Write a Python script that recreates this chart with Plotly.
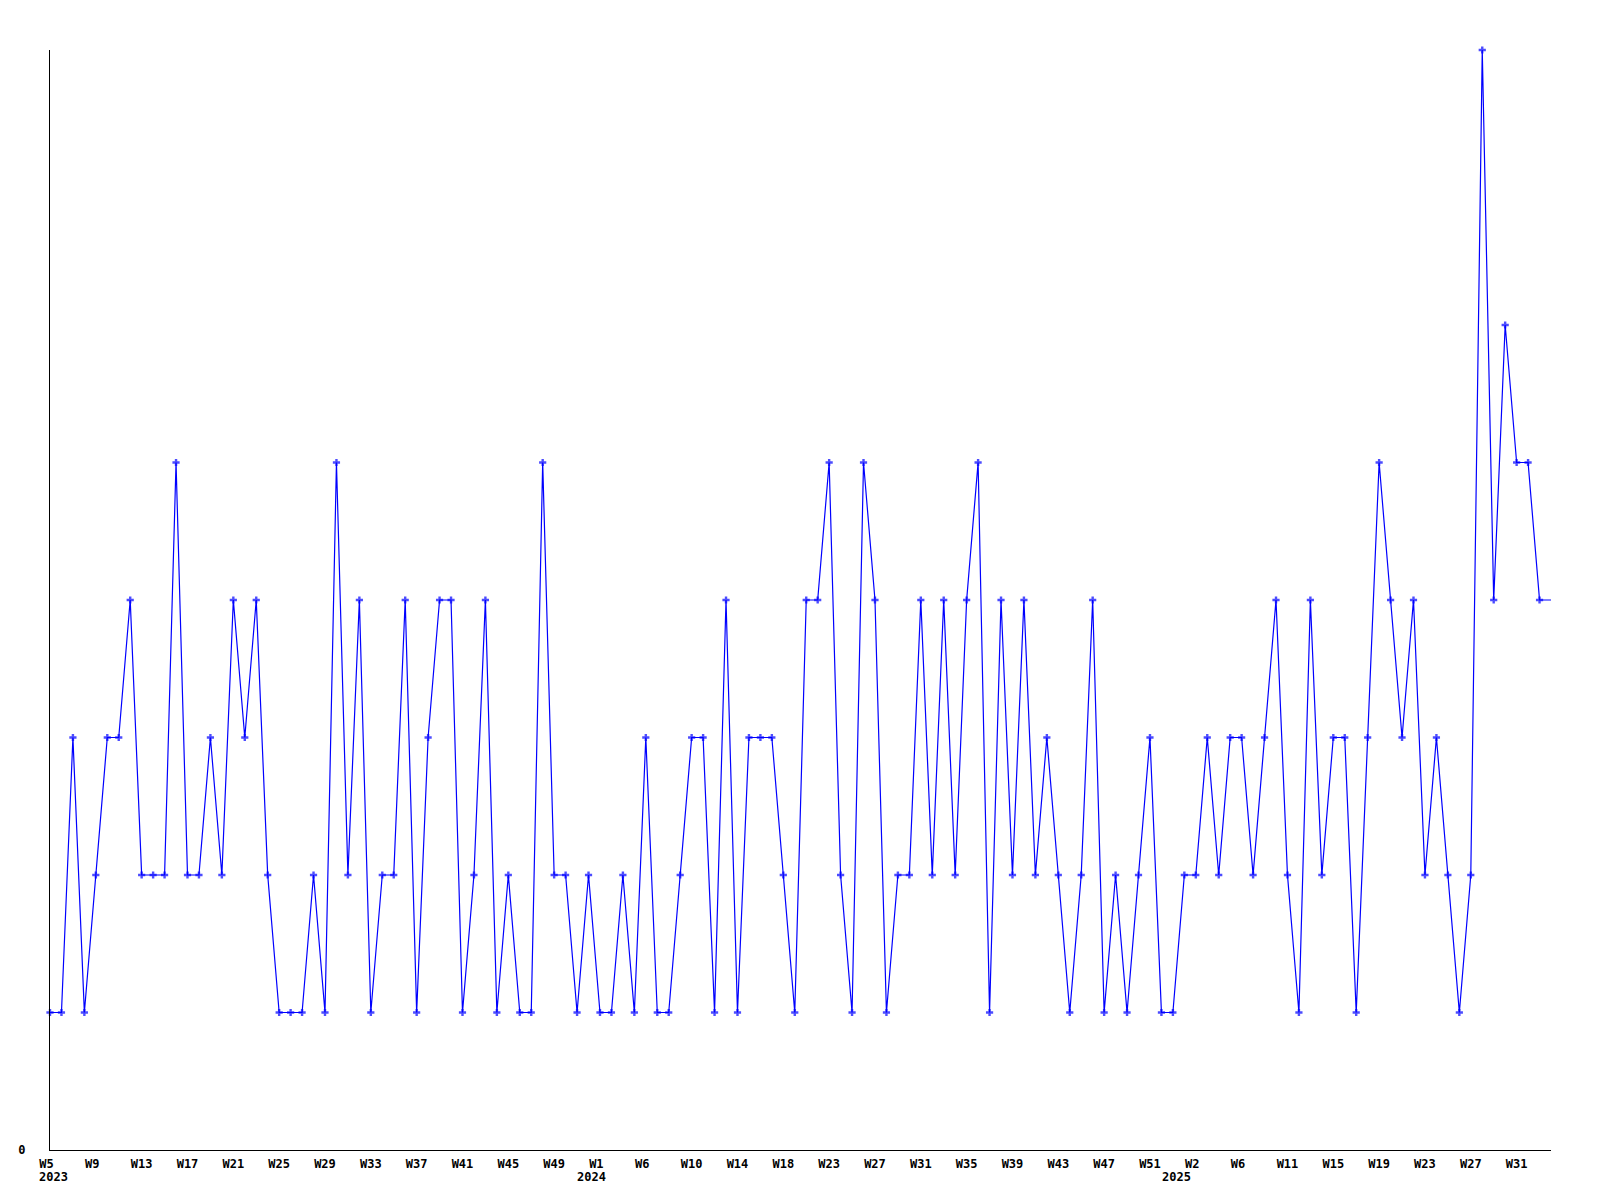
import plotly.graph_objects as go

# weekly values (index 0 = 2023 W5)
values = [
    1, 1, 3, 1, 2, 3, 3, 4, 2, 2, 2, 5, 2, 2, 3, 2, 4, 3, 4,
    2, 1, 1, 1, 2, 1, 5, 2, 4, 1, 2, 2, 4, 1, 3, 4, 4, 1, 2,
    4, 1, 2, 1, 1, 5, 2, 2, 1, 2, 1, 1, 2, 1, 3, 1, 1, 2, 3,
    3, 1, 4, 1, 3, 3, 3, 2, 1, 4, 4, 5, 2, 1, 5, 4, 1, 2,
    2, 4, 2, 4, 2, 4, 5, 1, 4, 2, 4, 2, 3, 2, 1, 2, 4, 1, 2,
    1, 2, 3, 1, 1, 2, 2, 3, 2, 3, 3, 2, 3, 4, 2, 1, 4, 2, 3,
    3, 1, 3, 5, 4, 3, 4, 2, 3, 2, 1, 2, 8, 4, 6, 5, 5, 4, 4,
]

week_labels = ["W5", "W9", "W13", "W17", "W21", "W25", "W29", "W33", "W37", "W41",
               "W45", "W49", "W1", "W6", "W10", "W14", "W18", "W23", "W27", "W31",
               "W35", "W39", "W43", "W47", "W51", "W2", "W6", "W11", "W15", "W19",
               "W23", "W27", "W31"]
tick_step = 4

years = ["2023", "2024", "2025"]
year_at = [0.3, 47.25, 98.3]

x = list(range(len(values)))
marker_sizes = [6] * (len(values) - 1) + [0]

FONT = "DejaVu Sans Mono"
BLUE = "#0000FF"

fig = go.Figure()
fig.add_trace(go.Scatter(
    x=x, y=values, mode="lines+markers",
    line=dict(color=BLUE, width=1.2),
    marker=dict(symbol="cross", size=marker_sizes, color=BLUE, line=dict(width=0)),
    showlegend=False, hoverinfo="skip", cliponaxis=False,
))

tickvals = [i * tick_step for i in range(len(week_labels))]
ticktext = [lbl.ljust(3, "\u00a0") for lbl in week_labels]

fig.update_xaxes(
    range=[0, len(values) - 1],
    tickvals=tickvals, ticktext=ticktext,
    showgrid=False, zeroline=False, automargin=False,
    showline=True, linecolor="black", linewidth=1,
    ticks="outside", ticklen=3, tickcolor="rgba(0,0,0,0)",
    tickfont=dict(family=FONT, size=12, color="black", weight="bold"),
    tickangle=0,
)
fig.update_yaxes(
    range=[0, 8],
    tickvals=[0], ticktext=["0"],
    showgrid=False, zeroline=False, automargin=False,
    showline=True, linecolor="black", linewidth=1,
    ticks="outside", ticklen=21, tickcolor="rgba(0,0,0,0)",
    tickfont=dict(family=FONT, size=12, color="black", weight="bold"),
)

for yr, pos in zip(years, year_at):
    fig.add_annotation(
        x=pos, y=0, xref="x", yref="paper", text=yr, showarrow=False,
        yshift=-27, yanchor="middle", xanchor="center",
        font=dict(family=FONT, size=12, color="black", weight="bold"),
    )

fig.update_layout(
    width=1600, height=1200,
    margin=dict(l=42, r=57, t=42, b=58, autoexpand=False),
    paper_bgcolor="white", plot_bgcolor="white",
)

fig.write_html("out.html")
